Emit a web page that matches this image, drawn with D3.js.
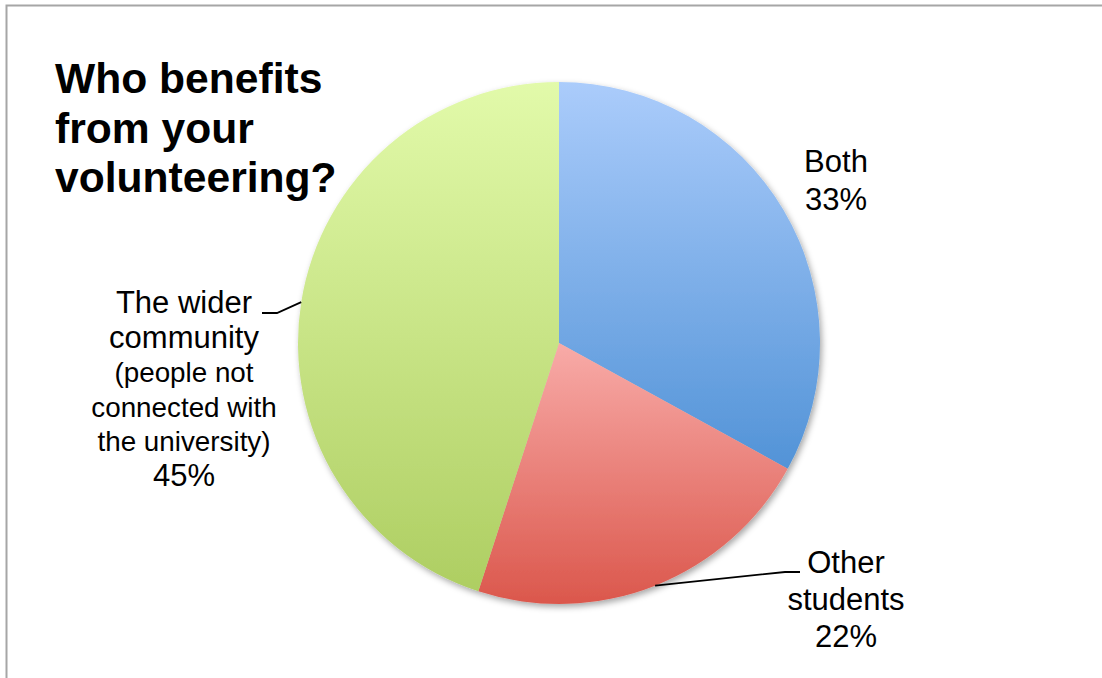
<!DOCTYPE html>
<html>
<head>
<meta charset="utf-8">
<script src="https://cdn.jsdelivr.net/npm/d3@7"></script>
<style>
  html, body { margin: 0; padding: 0; background: #fff; }
  svg { display: block; }
  text { font-family: "Liberation Sans", Arial, sans-serif; fill: #000; }
</style>
</head>
<body>
<svg id="chart" width="1102" height="678"></svg>
<script>
// ---- data ----
const titleLines = ["Who benefits", "from your", "volunteering?"];
const categories = ["Both", "Other students", "The wider community"];
const values = [33, 22, 45];
const labelLines = [
  ["Both", "33%"],
  ["Other", "students", "22%"],
  ["The wider", "community", "(people not", "connected with", "the university)", "45%"]
];
const labelSmall = [
  [false, false],
  [false, false, false],
  [false, false, true, true, true, false]
];
const gradTop = ["#abccfb", "#f8aba8", "#e2faaa"];
const gradBottom = ["#5293d7", "#db574c", "#aece62"];

// ---- layout ----
const W = 1102, H = 678;
const cx = 559, cy = 343, R = 261;
const svg = d3.select("#chart");

// frame
svg.append("path")
  .attr("d", `M6.5,${H} L6.5,5.5 L${W},5.5`)
  .attr("fill", "none").attr("stroke", "#a6a6a6").attr("stroke-width", 2);

const defs = svg.append("defs");
categories.forEach((c, i) => {
  const g = defs.append("linearGradient").attr("id", "g" + i)
    .attr("x1", 0).attr("y1", 0).attr("x2", 0).attr("y2", 1);
  g.append("stop").attr("offset", "0%").attr("stop-color", gradTop[i]);
  g.append("stop").attr("offset", "100%").attr("stop-color", gradBottom[i]);
});
const f = defs.append("filter").attr("id", "shadow")
  .attr("x", "-10%").attr("y", "-10%").attr("width", "120%").attr("height", "120%");
f.append("feDropShadow").attr("dx", 2).attr("dy", 3).attr("stdDeviation", 3)
  .attr("flood-color", "#000").attr("flood-opacity", 0.35);

// title
svg.append("text")
  .attr("x", 55).attr("y", 93)
  .style("font-size", "42.6px").style("font-weight", "bold")
  .selectAll("tspan").data(titleLines).join("tspan")
  .attr("x", 55).attr("dy", (d, i) => i === 0 ? 0 : 49.5)
  .text(d => d);

// pie
const pie = d3.pie().sort(null).value(d => d)(values);
const arc = d3.arc().innerRadius(0).outerRadius(R);
const gPie = svg.append("g").attr("transform", `translate(${cx},${cy})`);
gPie.append("g").attr("filter", "url(#shadow)")
  .selectAll("path").data(pie).join("path")
  .attr("d", arc)
  .attr("fill", (d, i) => `url(#g${i})`);

// leader anchor on outer edge at slice mid angle
function edgePoint(d) {
  const a = (d.startAngle + d.endAngle) / 2;
  return [cx + R * Math.sin(a), cy - R * Math.cos(a)];
}

// label placements (annotation layout)
const labelPos = [
  { x: 836, y: 172, lh: 38, leader: null },
  { x: 846, y: 573, lh: 37, leader: (p) => [p, [785, 572], [800, 572]] },
  { x: 184, y: 313, lh: 34.5, leader: (p) => [[262, 313], [277, 313], p] }
];

pie.forEach((d, i) => {
  const lp = labelPos[i];
  if (lp.leader) {
    const pts = lp.leader(edgePoint(d));
    svg.append("path")
      .attr("d", d3.line()(pts))
      .attr("fill", "none").attr("stroke", "#000").attr("stroke-width", 1.8);
  }
  const t = svg.append("text").attr("text-anchor", "middle");
  labelLines[i].forEach((line, j) => {
    t.append("tspan")
      .attr("x", lp.x).attr("y", lp.y + j * lp.lh)
      .style("font-size", labelSmall[i][j] ? "27.8px" : "31px")
      .text(line);
  });
});
</script>
</body>
</html>
